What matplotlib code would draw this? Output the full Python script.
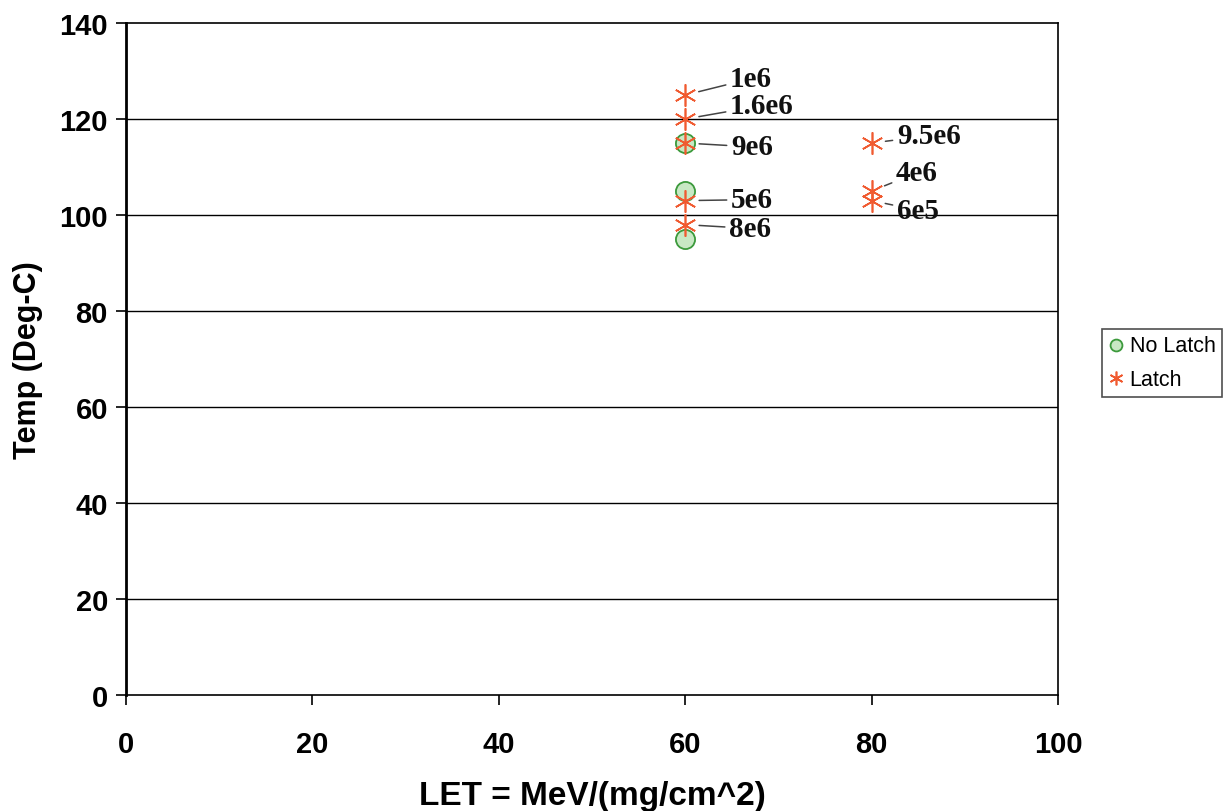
import matplotlib.pyplot as plt

# data
nolatch_let = [60, 60, 60]
nolatch_temp = [115, 105, 95]

latch_let = [60, 60, 60, 60, 60, 80, 80, 80]
latch_temp = [125, 120, 115, 103, 98, 115, 105, 103]

# fluence labels: (text, point x, point y, text x, text y)
labels = ["1e6", "1.6e6", "9e6", "5e6", "8e6", "9.5e6", "4e6", "6e5"]
label_pt_x = [60, 60, 60, 60, 60, 80, 80, 80]
label_pt_y = [125, 120, 115, 103, 98, 115, 105, 103]
label_txt_x = [64.8, 64.8, 64.9, 64.9, 64.7, 82.7, 82.6, 82.7]
label_txt_y = [128.4, 122.8, 114.2, 103.2, 97.2, 116.5, 108.8, 101.0]

yticks = [0, 20, 40, 60, 80, 100, 120, 140]
xticks = [0, 20, 40, 60, 80, 100]

plt.rcParams['font.family'] = ['Liberation Sans', 'DejaVu Sans']

fig = plt.figure(figsize=(12.28, 8.12), dpi=100)
ax = fig.add_axes([0.1026, 0.1429, 0.7590, 0.8275])

# grid lines
for yv in yticks[1:-1]:
    ax.axhline(yv, color="black", linewidth=1.0, zorder=1)

ax.scatter(nolatch_let, nolatch_temp, s=190, marker="o", facecolor="#c8e8c4",
           edgecolor="#3c9a3c", linewidth=1.3, zorder=3, label="No Latch")
ax.plot(latch_let, latch_temp, linestyle="none", marker=(6, 2, 0), markersize=16,
        markeredgecolor="#f05a30", markeredgewidth=1.2, zorder=4, label="Latch")

for t, px, py, tx, ty in zip(labels, label_pt_x, label_pt_y, label_txt_x, label_txt_y):
    ax.annotate(t, xy=(px, py), xytext=(tx, ty), textcoords="data",
                fontsize=21, fontweight="bold", family="Liberation Serif",
                va="center", ha="left", color="#111111",
                arrowprops=dict(arrowstyle="-", color="#444444", lw=1.1,
                                shrinkA=1, shrinkB=10), zorder=5)

ax.set_xlim(0, 100)
ax.set_ylim(0, 140)
ax.set_xticks(xticks)
ax.set_yticks(yticks)
ax.tick_params(axis="both", labelsize=21, length=7, width=1.2, direction="out")
for lab in ax.get_xticklabels() + ax.get_yticklabels():
    lab.set_fontweight("bold")
ax.tick_params(axis="x", pad=18)
ax.tick_params(axis="y", pad=6)

for side in ["top", "right", "bottom"]:
    ax.spines[side].set_linewidth(1.2)
ax.spines["left"].set_linewidth(2.0)

ax.set_xlabel("LET = MeV/(mg/cm^2)", fontsize=24, fontweight="bold", labelpad=16)
ax.set_ylabel("Temp (Deg-C)", fontsize=22, fontweight="bold", labelpad=12)

leg = fig.legend(loc="upper left", bbox_to_anchor=(0.897, 0.594), fontsize=15.5,
                 frameon=True, fancybox=False, edgecolor="#222222",
                 handletextpad=0.3, handlelength=0.7, borderpad=0.3,
                 borderaxespad=0.0, markerscale=0.62, labelspacing=0.6)
leg.get_frame().set_linewidth(1.2)

fig.savefig("out.png", dpi=100)
